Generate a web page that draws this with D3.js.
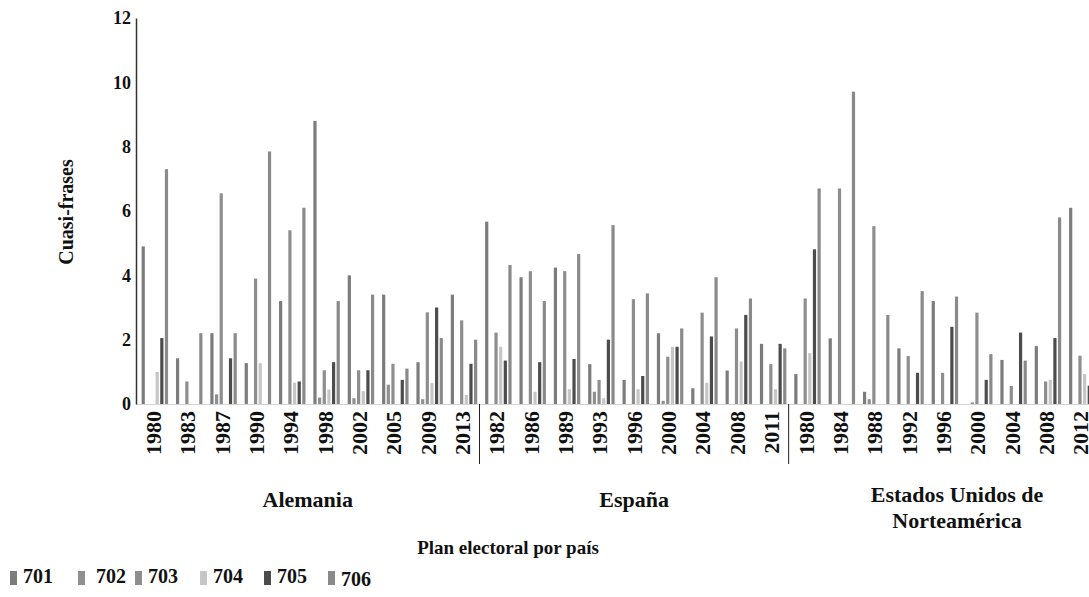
<!DOCTYPE html>
<html lang="es">
    <head>
        <meta charset="utf-8">
        <title>Cuasi-frases por plan electoral</title>
        <script src="https://cdn.jsdelivr.net/npm/d3@7"></script>
        <style type="text/css">
            body { margin: 0; background: #fff; }
            text { font-family: "Liberation Serif", "Times New Roman", serif; font-weight: bold; fill: #111; }
        </style>
    </head>
    <body>
        <script type="text/javascript">

            //Width and height
            var w = 1089;
            var h = 597;

            //Data
            var countries = ["Alemania", "España", "Estados Unidos de Norteamérica"];
            var years = [
                ["1980", "1983", "1987", "1990", "1994", "1998", "2002", "2005", "2009", "2013"],
                ["1982", "1986", "1989", "1993", "1996", "2000", "2004", "2008", "2011"],
                ["1980", "1984", "1988", "1992", "1996", "2000", "2004", "2008", "2012"]
            ];
            var series = ["701", "702", "703", "704", "705", "706"];

            // one value per election, same order as years (Alemania, España, EE.UU.)
            var v701 = [4.9, 1.42, 2.2, 1.27, 3.2, 8.8, 4.0, 3.4, 1.3, 3.4,
                        5.67, 3.94, 4.24, 1.24, 0.75, 2.2, 0.49, 1.04, 1.87,
                        0.93, 2.04, 0.38, 1.73, 3.2, 0, 1.37, 1.8, 6.1];
            var v702 = [0, 0, 0.3, 0, 0, 0.2, 0.18, 0.6, 0.15, 0,
                        0, 0, 0, 0.38, 0, 0.1, 0, 0, 0,
                        0, 0, 0.15, 0, 0, 0.05, 0, 0, 0];
            var v703 = [0, 0.7, 6.55, 3.9, 5.4, 1.05, 1.05, 1.25, 2.85, 2.6,
                        2.22, 4.13, 4.13, 0.75, 3.26, 1.47, 2.84, 2.35, 1.24,
                        3.28, 6.7, 5.53, 1.49, 0.97, 2.84, 0.56, 0.7, 1.5];
            var v704 = [1.0, 0, 0, 1.27, 0.66, 0.45, 0.4, 0, 0.65, 0.28,
                        1.78, 0.38, 0.46, 0.18, 0.46, 1.78, 0.66, 1.32, 0.46,
                        1.58, 0, 0, 0, 0, 0, 0, 0.75, 0.93];
            var v705 = [2.05, 0, 1.42, 0, 0.7, 1.3, 1.05, 0.75, 3.0, 1.25,
                        1.35, 1.3, 1.4, 2.0, 0.87, 1.78, 2.1, 2.77, 1.87,
                        4.81, 0, 0, 0.97, 2.4, 0.75, 2.22, 2.05, 0.57];
            var v706 = [7.3, 2.2, 2.2, 7.85, 6.1, 3.2, 3.4, 1.1, 2.05, 2.0,
                        4.32, 3.2, 4.66, 5.56, 3.44, 2.35, 3.94, 3.28, 1.73,
                        6.7, 9.71, 2.77, 3.51, 3.34, 1.55, 1.35, 5.8, 0];
            var values = [v701, v702, v703, v704, v705, v706];

            var yTicks = [0, 2, 4, 6, 8, 10, 12];
            var colors = ["#7c7c7c", "#909090", "#8e8e8e", "#c6c6c6", "#4c4c4c", "#8a8a8a"];

            //Flatten groups: one entry per election
            var groups = [];
            years.forEach(function(ys, c) {
                ys.forEach(function(yr) { groups.push({country: c, year: yr}); });
            });

            //Creates SVG element
            var svg = d3.select("body")
                        .append("svg")
                        .attr("width", w)
                        .attr("height", h);

            var plotLeft = 136, plotBottom = 404, plotTop = 18;
            var band = 34.35;   // the last group runs past the right edge, like the original

            var x0 = d3.scaleBand()
                .domain(d3.range(groups.length))
                .range([plotLeft, plotLeft + band * groups.length]);

            var x1 = d3.scaleBand()
                .domain(series)
                .range([4.9, 32.8]);

            var y = d3.scaleLinear()
                .domain([0, 12])
                .range([plotBottom, plotTop]);

            var barW = 3.2;

            //Bars
            series.forEach(function(s, k) {
                svg.append("g")
                    .selectAll("rect")
                    .data(values[k])
                    .enter()
                    .append("rect")
                    .attr("x", function(d, i) {
                        return x0(i) + x1(s) + (x1.bandwidth() - barW) / 2;
                    })
                    .attr("y", function(d) { return y(d); })
                    .attr("width", barW)
                    .attr("height", function(d) { return plotBottom - y(d); })
                    .attr("fill", colors[k]);
            });

            //X baseline (faint)
            svg.append("line")
                .attr("x1", plotLeft).attr("x2", w)
                .attr("y1", plotBottom + 0.5).attr("y2", plotBottom + 0.5)
                .attr("stroke", "#d4d4d4")
                .attr("stroke-width", 1);

            //Y axis
            var yAxis = d3.axisLeft(y)
                .tickValues(yTicks)
                .tickSize(0)
                .tickPadding(5);

            var yg = svg.append("g")
                .attr("transform", "translate(" + plotLeft + ",0)")
                .call(yAxis);
            yg.select(".domain").attr("stroke", "#333").attr("stroke-width", 1.5);
            yg.selectAll("text")
                .attr("font-family", "Liberation Serif")
                .attr("font-weight", "bold")
                .attr("font-size", 18)
                .attr("fill", "#111");

            svg.append("text")
                .text("Cuasi-frases")
                .attr("transform", "translate(73,212) rotate(-90)")
                .attr("text-anchor", "middle")
                .attr("font-size", 20);

            //Year labels
            svg.selectAll(".year")
                .data(groups)
                .enter()
                .append("text")
                .attr("class", "year")
                .text(function(d) { return d.year; })
                .attr("transform", function(d, i) {
                    return "translate(" + (x0(i) + band / 2) + ",411) rotate(-90)";
                })
                .attr("text-anchor", "end")
                .attr("dy", "0.35em")
                .attr("font-size", 22);

            //Country separators
            var starts = [0, years[0].length, years[0].length + years[1].length];
            svg.selectAll(".sep")
                .data(starts.slice(1))
                .enter()
                .append("line")
                .attr("x1", function(d) { return x0(d); })
                .attr("x2", function(d) { return x0(d); })
                .attr("y1", plotBottom)
                .attr("y2", 464)
                .attr("stroke", "#222")
                .attr("stroke-width", 1);

            //Country labels
            svg.append("text").text(countries[0])
                .attr("x", (x0(starts[0]) + x0(starts[1])) / 2).attr("y", 507)
                .attr("text-anchor", "middle").attr("font-size", 22);
            svg.append("text").text(countries[1])
                .attr("x", (x0(starts[1]) + x0(starts[2])) / 2).attr("y", 507)
                .attr("text-anchor", "middle").attr("font-size", 22);
            svg.append("text").text("Estados Unidos de")
                .attr("x", 957).attr("y", 502)
                .attr("text-anchor", "middle").attr("font-size", 22);
            svg.append("text").text("Norteamérica")
                .attr("x", 957).attr("y", 528)
                .attr("text-anchor", "middle").attr("font-size", 22);

            svg.append("text")
                .text("Plan electoral por país")
                .attr("x", 508)
                .attr("y", 554)
                .attr("text-anchor", "middle")
                .attr("font-size", 19);

            //Legend
            var legendX = [10, 78, 135, 200, 264, 328];
            var legend = svg.selectAll(".legend")
                .data(series)
                .enter()
                .append("g")
                .attr("class", "legend")
                .attr("transform", function(d, i) { return "translate(" + legendX[i] + ",571)"; });

            legend.append("rect")
                .attr("width", 7)
                .attr("height", 14)
                .attr("fill", function(d, i) { return colors[i]; });

            legend.append("text")
                .text(function(d) { return d; })
                .attr("x", function(d, i) { return i == 1 ? 18 : 13; })
                .attr("y", function(d, i) { return i == 5 ? 15 : 12; })
                .attr("font-size", 20);
        </script>
    </body>
</html>
